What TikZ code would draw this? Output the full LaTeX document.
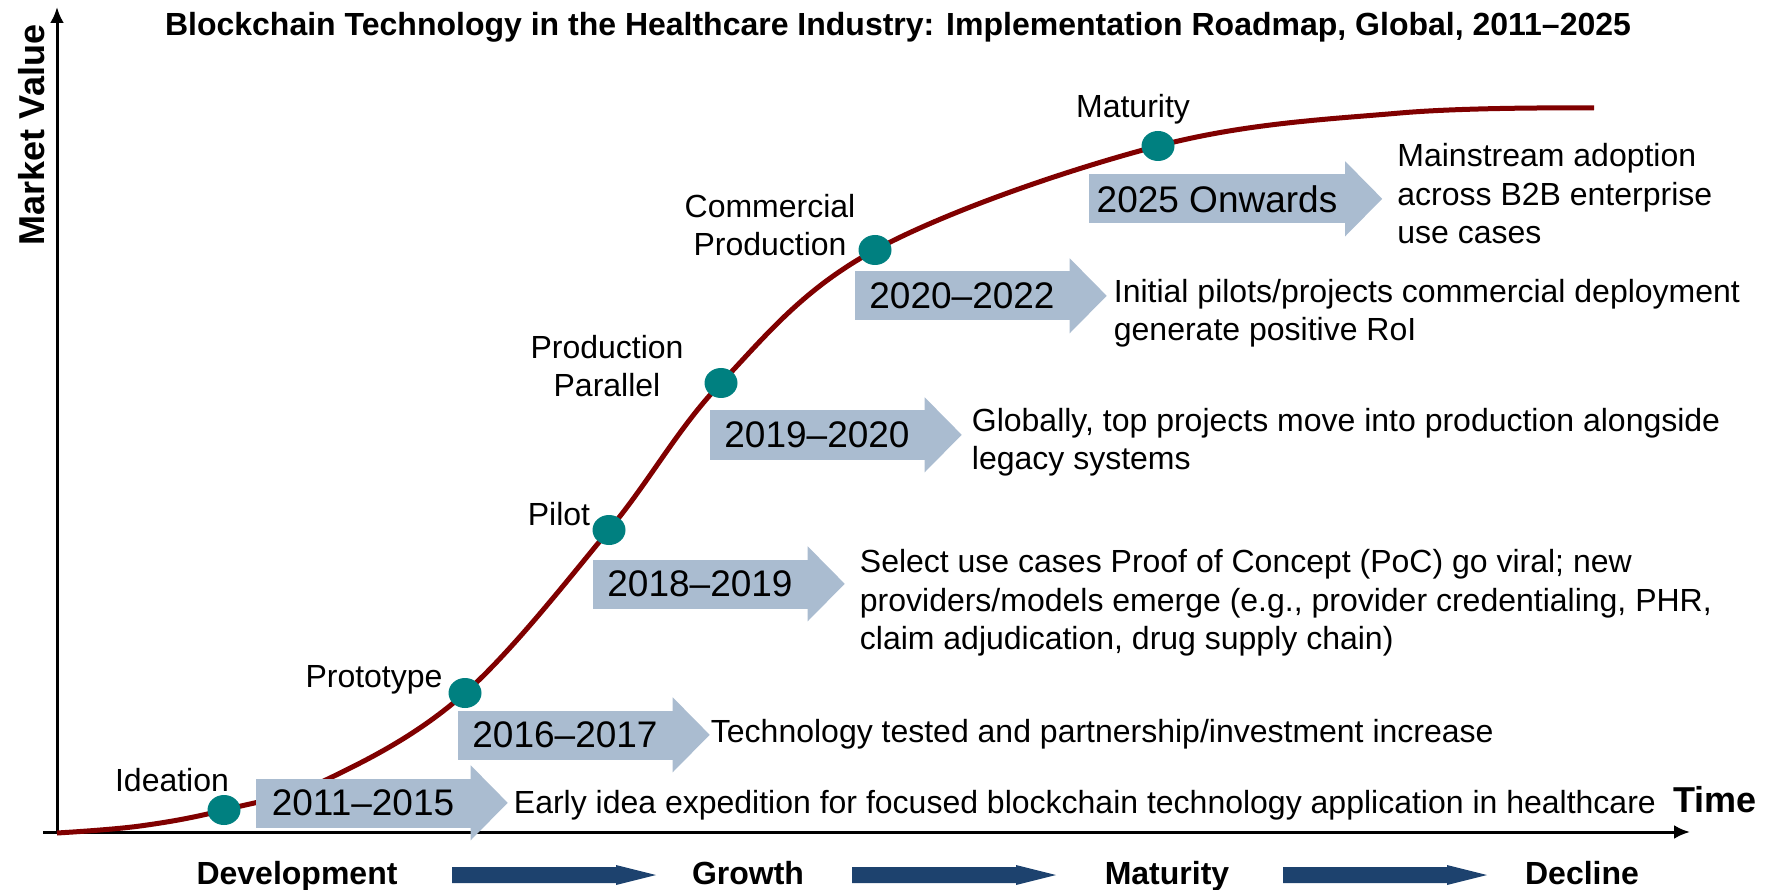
\documentclass[tikz,border=0pt]{standalone}
\usepackage{fontspec}
\setmainfont{Liberation Sans}
\usetikzlibrary{positioning,arrows.meta,shapes.geometric}

\definecolor{curvered}{RGB}{128,0,0}
\definecolor{dotteal}{RGB}{0,128,128}
\definecolor{boxblue}{RGB}{170,188,208}
\definecolor{phaseblue}{RGB}{29,66,110}

\newcommand{\txtsize}{\fontsize{32}{38.5}\selectfont}
\newcommand{\yearsize}{\fontsize{37}{44}\selectfont}
\newcommand{\bigsize}{\fontsize{36}{40}\selectfont}

\begin{document}
\begin{tikzpicture}[x=1pt, y=-1pt,
                    main dot/.style={ellipse,fill=dotteal,minimum width=33,minimum height=30,inner sep=0},
                    stage/.style={font=\txtsize,align=center,inner sep=0,on grid},
                    year box/.style={fill=boxblue,minimum width=215,minimum height=49,inner sep=0,font=\yearsize},
                    desc/.style={font=\txtsize,align=left,inner sep=0},
                    phase/.style={font=\bfseries\txtsize,anchor=base,inner sep=0},
                    axis/.style={line width=3pt,-{Latex[length=16pt,width=14pt]}}]

  \useasboundingbox (0,0) rectangle (1775,890);

  \node[font=\bfseries\fontsize{32}{38}\selectfont,anchor=base,inner sep=0] (title) at (898,36)
    {Blockchain Technology in the Healthcare Industry: Implementation Roadmap, Global, 2011–2025};

  \coordinate (origin) at (57,832);
  \coordinate (ytop) at (57,7);
  \coordinate (xleft) at (43,832);
  \coordinate (xright) at (1690,832);
  \draw[axis] (origin) -- (ytop);
  \draw[axis] (xleft) -- (xright);
  \node[font=\bfseries\bigsize,rotate=90,inner sep=0] (value) at (32,135) {Market Value};
  \node[font=\bfseries\bigsize,anchor=base,inner sep=0] (time) at (1715,812) {Time};

  \draw[curvered,line width=5pt] plot[smooth,tension=0.6] coordinates {
    (57,833) (140,826) (224,810) (330,778) (465,693) (609,530) (721,383)
    (875,250) (1158,146) (1400,113) (1594,108)};

  \node[main dot] (d1) at (224,810) {};
  \node[main dot] (d2) at (465,693) {};
  \node[main dot] (d3) at (609,530) {};
  \node[main dot] (d4) at (721,383) {};
  \node[main dot] (d5) at (875,250) {};
  \node[main dot] (d6) at (1158,146) {};

  \node[stage,above left=30pt and 52pt of d1] (ideation) {Ideation};
  \node[stage,above left=13pt and 91pt of d2] (prototype) {Prototype};
  \node[stage,above left=16pt and 50pt of d3] (pilot) {Pilot};
  \node[stage,above left=17pt and 114pt of d4] (parallel) {Production\\Parallel};
  \node[stage,above left=25pt and 105pt of d5] (commercial) {Commercial\\Production};
  \node[stage,above left=37pt and 25pt of d6] (maturity) {Maturity};

  \node[year box] (y1) at (363,803) {2011–2015};
  \node[year box] (y2) at (565,735) {2016–2017};
  \node[year box] (y3) at (700,584) {2018–2019};
  \node[year box] (y4) at (817,435) {2019–2020};
  \node[year box] (y5) at (962,296) {2020–2022};
  \node[year box,minimum width=256] (y6) at (1217,199) {2025 Onwards};
  \foreach \i in {1,...,6}
    \fill[boxblue] (y\i.north east) ++(0,-13) -- ++(37,37.5) -- ++(-37,37.5) -- cycle;

  \node[desc,right=43pt of y1,yshift=-2pt] (t1) {Early idea expedition for focused blockchain technology application in healthcare};
  \node[desc,right=38pt of y2,yshift=1pt] (t2) {Technology tested and partnership/investment increase};
  \node[desc,right=52pt of y3,yshift=-19pt] (t3) {Select use cases Proof of Concept (PoC) go viral; new\\providers/models emerge (e.g., provider credentialing, PHR,\\claim adjudication, drug supply chain)};
  \node[desc,right=47pt of y4,yshift=-7pt] (t4) {Globally, top projects move into production alongside\\legacy systems};
  \node[desc,right=44pt of y5,yshift=-17pt] (t5) {Initial pilots/projects commercial deployment\\generate positive RoI};
  \node[desc,right=52pt of y6,yshift=5pt] (t6) {Mainstream adoption\\across B2B enterprise\\use cases};

  \node[phase] (development) at (297,884) {Development};
  \node[phase] (growth) at (748,884) {Growth};
  \node[phase] (mature) at (1167,884) {Maturity};
  \node[phase] (decline) at (1582,884) {Decline};
  \foreach \xs in {452,852,1283}
    \fill[phaseblue] (\xs,867) -- ++(164,0) -- ++(0,-2) -- ++(40,10) -- ++(-40,10) -- ++(0,-2) -- ++(-164,0) -- cycle;

\end{tikzpicture}
\end{document}
